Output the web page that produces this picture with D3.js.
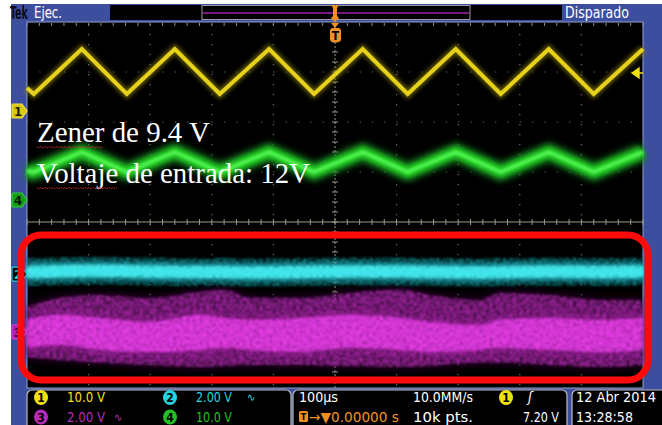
<!DOCTYPE html>
<head>
<meta charset="utf-8">
<title>Zener de 9.4 V</title>
<script src="https://d3js.org/d3.v7.min.js"></script>
<style>
    html, body { margin: 0; padding: 0; background: white; overflow: hidden; }
    .tek { font-family: "Liberation Sans Narrow", "DejaVu Sans Condensed", "Roboto", sans-serif; }
    .note { font-family: "Liberation Serif", "DejaVu Serif", serif; }
</style>
</head>
<body>
<div id="scope"></div>
<script>
    // time of each triangle vertex (us), 100us/div
    var vertexTimes = [-500, -489, -411, -338, -260, -187, -107, -34, 45, 118, 196, 269, 347, 420, 500];
    var ch1Volts = [4.6, 3.4, 12.4, 3.4, 12.4, 3.4, 12.4, 3.4, 12.4, 3.4, 12.4, 3.4, 12.4, 3.4, 12.4];
    var ch4Volts = [5.8, 5.6, 9.6, 5.6, 9.6, 5.6, 9.6, 5.6, 9.6, 5.6, 9.6, 5.6, 9.6, 5.6, 9.6];

    // noisy channels, envelope
    var noiseTimes = [-500, -446, -381, -300, -219, -179, -138, -57, 24, 106, 154, 235, 268, 349, 430, 500];
    var ch2Center = [0.1, 0.14, 0.16, 0.13, 0.1, 0.1, 0.08, 0.1, 0.12, 0.12, 0.1, 0.08, 0.1, 0.12, 0.1, 0.12];
    var ch3Upper = [1.22, 1.66, 1.8, 1.66, 1.95, 2.05, 1.66, 1.66, 1.9, 2.05, 1.8, 1.56, 1.9, 1.8, 1.56, 1.56];
    var ch3Lower = [-1.22, -1.37, -1.51, -1.61, -1.71, -1.66, -1.61, -1.61, -1.66, -1.71, -1.66, -1.51, -1.51, -1.61, -1.71, -1.61];
    var ch3CoreTop = [0.59, 0.83, 0.68, 0.49, 0.83, 0.68, 0.59, 0.68, 0.83, 0.68, 0.49, 0.34, 0.59, 0.68, 0.59, 0.68];
    var ch3CoreBottom = [-0.78, -0.63, -0.88, -0.98, -0.88, -0.78, -0.88, -0.98, -0.78, -0.88, -0.98, -0.88, -0.78, -0.88, -0.98, -0.88];

    // volts/div and position (div) per channel
    var chScale = {1: 10, 2: 2, 3: 2, 4: 10};
    var chOffset = {1: 0.22, 2: 0.73, 3: -0.68, 4: -1.56};

    var noteLines = ["Zener de 9.4 V", "Voltaje de entrada: 12V"];
    var readoutRow1 = [{ch: 1, text: "10.0 V"}, {ch: 2, text: "2.00 V"}];
    var readoutRow2 = [{ch: 3, text: "2.00 V"}, {ch: 4, text: "10.0 V"}];
    var chColor = {1: "#f0e010", 2: "#22d4e0", 3: "#b82ab8", 4: "#22c022"};

    var W = 662, H = 425;
    var svg = d3.select("#scope").append("svg")
        .attr("width", W).attr("height", H);

    var defs = svg.append("defs");
    function region(f) {
        return f.attr("filterUnits", "userSpaceOnUse").attr("x", 0).attr("y", 0).attr("width", W).attr("height", H);
    }
    [["b1", 1], ["b2", 2], ["b3", 3.2], ["b5", 5], ["b06", 0.6]].forEach(function(f) {
        region(defs.append("filter").attr("id", f[0]))
            .append("feGaussianBlur").attr("stdDeviation", f[1]);
    });
    // speckle texture for the noisy traces
    function grain(id, freq, gain, bias, blur, seed) {
        var f = region(defs.append("filter").attr("id", id));
        f.append("feTurbulence").attr("type", "fractalNoise").attr("baseFrequency", freq)
            .attr("numOctaves", 3).attr("seed", seed).attr("result", "n");
        f.append("feColorMatrix").attr("in", "n").attr("type", "matrix")
            .attr("values", "0 0 0 0 0  0 0 0 0 0  0 0 0 0 0  " + gain + " 0 0 0 " + bias).attr("result", "m");
        f.append("feComposite").attr("in", "SourceGraphic").attr("in2", "m").attr("operator", "in").attr("result", "t");
        f.append("feGaussianBlur").attr("in", "t").attr("stdDeviation", blur);
    }
    grain("grainA", "0.3 0.45", 2.6, -0.75, 0.9, 4);
    grain("grainB", "0.3 0.45", 2.4, -0.45, 0.8, 9);

    // frame
    svg.append("rect").attr("x", 11).attr("y", 4).attr("width", W - 11).attr("height", H - 4).attr("fill", "#3e4e9e");

    var x = d3.scaleLinear().domain([-500, 500]).range([27, 643]);
    var yTop = d3.scaleLinear().domain([-2, 2]).range([222, 22]);
    var yBot = d3.scaleLinear().domain([-2, 2]).range([386, 222]);

    function yFor(ch) {
        var s = ch == 1 || ch == 4 ? yTop : yBot;
        return function(v) { return s(v / chScale[ch] + chOffset[ch]); };
    }

    // graticule
    svg.append("rect").attr("x", x(-500)).attr("y", 22).attr("width", x(500) - x(-500)).attr("height", 366)
        .attr("fill", "black").attr("stroke", "#8fa2cc").attr("stroke-width", 1);

    var grid = svg.append("g").attr("stroke", "#6e6e6e").attr("stroke-width", 1.2);
    d3.range(-400, 500, 100).filter(function(t) { return t != 0; }).forEach(function(t) {
        grid.append("line").attr("x1", x(t)).attr("x2", x(t)).attr("y1", 24).attr("y2", 386)
            .attr("stroke-dasharray", "1.2 8.8");
    });
    [yTop(1), yTop(0), yTop(-1), yBot(1), yBot(0), yBot(-1)].forEach(function(yy) {
        grid.append("line").attr("x1", x(-500)).attr("x2", x(500)).attr("y1", yy).attr("y2", yy)
            .attr("stroke-dasharray", "1.2 11.12");
    });

    var minorX = d3.range(-500, 501, 20);
    var axes = svg.append("g").attr("stroke", "#9a9a8a").attr("stroke-width", 1);
    axes.append("line").attr("x1", x(-500)).attr("x2", x(500)).attr("y1", 222).attr("y2", 222);
    axes.selectAll(".tkx").data(minorX).enter().append("line")
        .attr("x1", function(d) { return x(d); }).attr("x2", function(d) { return x(d); })
        .attr("y1", 219).attr("y2", 225);
    axes.selectAll(".tkt").data(minorX).enter().append("line")
        .attr("x1", function(d) { return x(d); }).attr("x2", function(d) { return x(d); })
        .attr("y1", 23).attr("y2", 26).attr("stroke", "#7f8fb0");
    axes.append("line").attr("x1", x(0)).attr("x2", x(0)).attr("y1", 22).attr("y2", 388)
        .attr("stroke-dasharray", "2 2");
    axes.selectAll(".tky").data(d3.range(32, 388, 10)).enter().append("line")
        .attr("x1", x(0) - 3).attr("x2", x(0) + 3)
        .attr("y1", function(d) { return d; }).attr("y2", function(d) { return d; });

    // ch3 magenta band
    var y3 = yFor(3);
    var bandOuter = d3.area().x(function(d, i) { return x(noiseTimes[i]); })
        .y0(function(d, i) { return y3(ch3Lower[i]); }).y1(function(d, i) { return y3(ch3Upper[i]); })
        .curve(d3.curveMonotoneX);
    var bandCore = d3.area().x(function(d, i) { return x(noiseTimes[i]); })
        .y0(function(d, i) { return y3(ch3CoreBottom[i]); }).y1(function(d, i) { return y3(ch3CoreTop[i]); })
        .curve(d3.curveMonotoneX);
    svg.append("path").datum(noiseTimes).attr("d", bandOuter).attr("fill", "#4a084a").attr("opacity", 0.8).attr("filter", "url(#b5)");
    svg.append("path").datum(noiseTimes).attr("d", bandOuter).attr("fill", "#a426a4").attr("filter", "url(#grainA)");
    svg.append("path").datum(noiseTimes).attr("d", bandCore).attr("fill", "#a820a8").attr("opacity", 0.75).attr("filter", "url(#b5)");
    svg.append("path").datum(noiseTimes).attr("d", bandCore).attr("fill", "#f545f5").attr("opacity", 0.85).attr("filter", "url(#grainB)");

    // ch2 cyan band
    var y2 = yFor(2);
    var line2 = d3.line().x(function(d, i) { return x(noiseTimes[i]); })
        .y(function(d) { return y2(d); }).curve(d3.curveMonotoneX);
    svg.append("path").datum(ch2Center).attr("d", line2).attr("fill", "none")
        .attr("stroke", "#0c7478").attr("stroke-width", 28).attr("filter", "url(#grainA)");
    svg.append("path").datum(ch2Center).attr("d", line2).attr("fill", "none")
        .attr("stroke", "#1aa8b0").attr("stroke-width", 18).attr("opacity", 0.85).attr("filter", "url(#b2)");
    svg.append("path").datum(ch2Center).attr("d", line2).attr("fill", "none")
        .attr("stroke", "#50eef2").attr("stroke-width", 12).attr("filter", "url(#grainB)");
    svg.append("path").datum(ch2Center).attr("d", line2).attr("fill", "none")
        .attr("stroke", "#40e8ee").attr("stroke-width", 7).attr("opacity", 0.85).attr("filter", "url(#b1)");

    // ch4 green
    var line4 = d3.line().x(function(d, i) { return x(vertexTimes[i]); }).y(yFor(4));
    svg.append("path").datum(ch4Volts).attr("d", line4).attr("fill", "none").attr("stroke-linejoin", "round")
        .attr("stroke", "#12801a").attr("stroke-width", 18).attr("filter", "url(#b3)");
    svg.append("path").datum(ch4Volts).attr("d", line4).attr("fill", "none").attr("stroke-linejoin", "round")
        .attr("stroke", "#22d022").attr("stroke-width", 10).attr("filter", "url(#b2)");
    svg.append("path").datum(ch4Volts).attr("d", line4).attr("fill", "none").attr("stroke-linejoin", "round")
        .attr("stroke", "#50f050").attr("stroke-width", 4).attr("filter", "url(#b1)");

    // ch1 yellow
    var line1 = d3.line().x(function(d, i) { return x(vertexTimes[i]); }).y(yFor(1));
    svg.append("path").datum(ch1Volts).attr("d", line1).attr("fill", "none")
        .attr("stroke", "#8a7c00").attr("stroke-width", 8).attr("opacity", 0.7).attr("filter", "url(#b2)");
    svg.append("path").datum(ch1Volts).attr("d", line1).attr("fill", "none")
        .attr("stroke", "#e6d21a").attr("stroke-width", 4).attr("filter", "url(#b06)");

    // squeeze a text to the width it has on the screen
    function label(g, px, py, s, w, color, size, weight) {
        var t = g.append("text").attr("fill", color).attr("font-size", size)
            .attr("font-weight", weight || "normal").text(s);
        var k = w / t.node().getComputedTextLength();
        t.attr("transform", "translate(" + px + "," + py + ") scale(" + k + ",1)");
        return k;
    }

    // text pasted on the screenshot
    var noteWidth = [173, 273];
    var note = svg.append("g").attr("class", "note");
    noteLines.forEach(function(s, i) {
        var yy = 142 + i * 41;
        var k = label(note, 37, yy, s, noteWidth[i], "white", 29);
        var probe = note.append("text").attr("font-size", 29).attr("visibility", "hidden").text(s.split(" ")[0]);
        var w = probe.node().getComputedTextLength() * k;
        probe.remove();
        var pts = d3.range(0, Math.floor(w / 2) + 1).map(function(j) { return [37 + j * 2, yy + 5 + (j % 2 ? 1 : -0.5)]; });
        note.append("path").attr("d", d3.line()(pts)).attr("fill", "none")
            .attr("stroke", "#d02828").attr("stroke-width", 1).attr("stroke-dasharray", "2 1");
    });

    // channel markers on the left
    function marker(ch, yy, fill, stroke, txt) {
        var g = svg.append("g").attr("transform", "translate(12," + yy + ")");
        g.append("path").attr("d", "M1,-7 H10 L15,0 L10,7 H1 Q0,7 0,6 V-6 Q0,-7 1,-7 Z")
            .attr("fill", fill).attr("stroke", stroke).attr("stroke-width", 1.2);
        g.append("text").attr("class", "tek").attr("x", 6).attr("y", 5).attr("text-anchor", "middle")
            .attr("font-size", 13).attr("font-weight", "bold").attr("fill", txt).text(ch);
    }
    marker(1, yFor(1)(0), "#d8c810", "#f0e040", "#1a1a00");
    marker(4, yFor(4)(0), "#1a9a1a", "#30d030", "#001a00");
    marker(2, yFor(2)(0), "#000", "#22d4e0", "#22d4e0");
    marker(3, yFor(3)(0), "#b020b0", "#d040d0", "#300030");

    // trigger level arrow, right side
    svg.append("path").attr("d", "M632,73 L639,68 L639,78 Z M639,73 H643").attr("fill", "#f0e010")
        .attr("stroke", "#f0e010").attr("stroke-width", 1.4);

    // red highlight
    svg.append("rect").attr("x", 21).attr("y", 235).attr("width", 627).attr("height", 145).attr("rx", 20)
        .attr("fill", "none").attr("stroke", "#ff0a0a").attr("stroke-width", 7);

    // top bar
    var topBar = svg.append("g").attr("class", "tek");
    topBar.append("rect").attr("x", 110).attr("y", 5).attr("width", 452).attr("height", 15).attr("fill", "black");
    topBar.append("rect").attr("x", 202).attr("y", 5.5).attr("width", 268).attr("height", 14).attr("fill", "none")
        .attr("stroke", "#9a9a9a").attr("stroke-width", 1);
    topBar.append("line").attr("x1", 203).attr("x2", 469).attr("y1", 13).attr("y2", 13)
        .attr("stroke", "#a020a0").attr("stroke-width", 1.5);
    topBar.append("path").attr("d", "M331,5 H339 L337,8 V16 L339,18 L335,22 L331,18 L333,16 V8 Z").attr("fill", "#f09020");
    topBar.append("path").attr("d", "M331,23 H339 L335,28 Z").attr("fill", "#f09020");
    topBar.append("rect").attr("x", 330).attr("y", 28).attr("width", 11).attr("height", 14).attr("rx", 3).attr("fill", "#f09020");
    topBar.append("text").attr("x", 335.5).attr("y", 40).attr("text-anchor", "middle").attr("font-size", 12)
        .attr("font-weight", "bold").attr("fill", "black").text("T");
    label(topBar, 10, 19, "Tek", 18, "#0a0a1a", 17, "bold");
    label(topBar, 34, 18, "Ejec.", 28, "white", 15);
    label(topBar, 565, 18, "Disparado", 64, "white", 16);

    // status bar
    var st = svg.append("g").attr("class", "tek");
    [[27, 264], [293, 274], [572, 100]].forEach(function(b) {
        st.append("rect").attr("x", b[0]).attr("y", 390).attr("width", b[1]).attr("height", 45).attr("rx", 5)
            .attr("fill", "black").attr("stroke", "#bcbcbc").attr("stroke-width", 1.2);
    });
    function badge(cx, cy, ch, fill, txt) {
        st.append("ellipse").attr("cx", cx).attr("cy", cy).attr("rx", 7).attr("ry", 7.5).attr("fill", fill);
        st.append("text").attr("x", cx).attr("y", cy + 4.5).attr("text-anchor", "middle").attr("font-size", 12)
            .attr("font-weight", "bold").attr("fill", txt).text(ch);
    }
    [readoutRow1, readoutRow2].forEach(function(row, r) {
        var yy = 402 + r * 19.5;
        row.forEach(function(d, i) {
            var bx = i == 0 ? 41 : 170;
            badge(bx, yy - 4.5, d.ch, chColor[d.ch], "black");
            label(st, bx + 26, yy, d.text, i == 0 ? 38 : 36, chColor[d.ch], 14);
            if (d.ch == 2 || d.ch == 3) {
                st.append("text").attr("x", d.ch == 2 ? bx + 77 : bx + 73).attr("y", yy - 1)
                    .attr("font-size", 11).attr("fill", chColor[d.ch]).text("∿");
            }
        });
    });
    label(st, 299, 402, "100µs", 39, "white", 14);
    label(st, 413, 402, "10.0MM/s", 60, "white", 14);
    badge(506, 397.5, 1, chColor[1], "black");
    st.append("text").attr("x", 528).attr("y", 402).attr("font-size", 14).attr("fill", "white")
        .attr("font-style", "italic").text("ʃ");
    st.append("rect").attr("x", 299).attr("y", 411).attr("width", 9).attr("height", 11).attr("rx", 1.5).attr("fill", "#f09020");
    st.append("text").attr("x", 303.5).attr("y", 420).attr("text-anchor", "middle").attr("font-size", 9)
        .attr("font-weight", "bold").attr("fill", "black").text("T");
    label(st, 309, 421.5, "→▼0.00000 s", 90, "#f09020", 14);
    label(st, 413, 421.5, "10k pts.", 60, "white", 14);
    label(st, 523, 421.5, "7.20 V", 36, "white", 14);
    label(st, 576, 402, "12 Abr 2014", 80, "white", 14);
    label(st, 576, 421.5, "13:28:58", 57, "white", 14);
</script>
</body>
